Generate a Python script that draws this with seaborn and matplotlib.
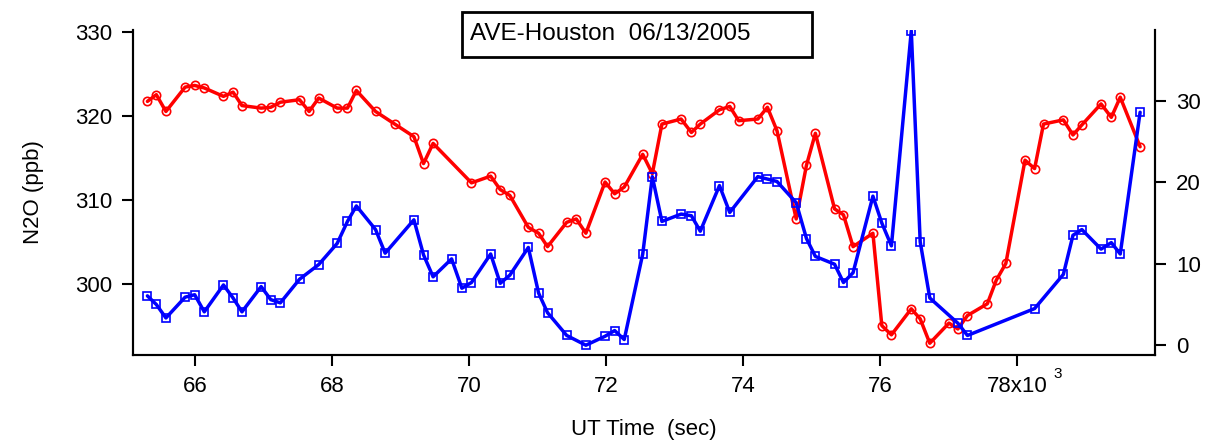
import numpy as np
import pandas as pd
import matplotlib
matplotlib.use('Agg')
import matplotlib.pyplot as plt
import seaborn as sns
from matplotlib.patches import Rectangle

# UT time in thousands of seconds
n2o_time = [65.30, 65.43, 65.57, 65.85, 65.99, 66.13, 66.41, 66.55, 66.68, 66.96, 67.10, 67.24,
            67.52, 67.66, 67.80, 68.07, 68.22, 68.35, 68.63, 68.91, 69.19, 69.33, 69.47, 70.03,
            70.31, 70.45, 70.59, 70.86, 71.01, 71.14, 71.42, 71.56, 71.70, 71.98, 72.12, 72.26,
            72.53, 72.67, 72.81, 73.09, 73.24, 73.37, 73.65, 73.80, 73.93, 74.21, 74.35, 74.49,
            74.77, 74.92, 75.05, 75.33, 75.46, 75.60, 75.89, 76.02, 76.16, 76.45, 76.58, 76.72,
            77.00, 77.13, 77.27, 77.56, 77.69, 77.83, 78.11, 78.25, 78.38, 78.67, 78.81, 78.94,
            79.22, 79.37, 79.50, 79.79]
n2o_ppb = [321.7, 322.5, 320.5, 323.4, 323.6, 323.3, 322.3, 322.8, 321.2, 320.9, 321.0, 321.6,
           321.9, 320.5, 322.1, 320.9, 320.9, 323.0, 320.5, 319.0, 317.5, 314.3, 316.7, 312.0,
           312.8, 311.2, 310.5, 306.7, 306.0, 304.4, 307.3, 307.7, 306.0, 312.1, 310.7, 311.5,
           315.4, 313.1, 319.0, 319.6, 318.0, 319.0, 320.7, 321.1, 319.4, 319.6, 321.0, 318.2,
           307.7, 314.1, 317.9, 308.9, 308.2, 304.4, 306.0, 295.0, 293.9, 297.0, 295.8, 292.9,
           295.3, 294.6, 296.2, 297.6, 300.4, 302.4, 314.7, 313.7, 319.0, 319.5, 317.7, 318.9,
           321.4, 319.8, 322.2, 316.3]

blue_time = [65.30, 65.43, 65.57, 65.85, 65.99, 66.13, 66.41, 66.55, 66.68, 66.96, 67.10, 67.24,
             67.52, 67.80, 68.07, 68.22, 68.35, 68.63, 68.77, 69.19, 69.33, 69.47, 69.74, 69.89,
             70.03, 70.31, 70.45, 70.59, 70.86, 71.01, 71.14, 71.42, 71.70, 71.98, 72.12, 72.26,
             72.53, 72.67, 72.81, 73.09, 73.24, 73.37, 73.65, 73.80, 74.21, 74.35, 74.49, 74.77,
             74.92, 75.05, 75.33, 75.46, 75.60, 75.89, 76.02, 76.16, 76.45, 76.58, 76.72, 77.13,
             77.27, 78.25, 78.67, 78.81, 78.94, 79.22, 79.37, 79.50, 79.79]
blue_val = [6.06, 5.0, 3.35, 5.9, 6.2, 4.1, 7.4, 5.8, 4.1, 7.2, 5.6, 5.2,
            8.1, 9.9, 12.5, 15.2, 17.1, 14.2, 11.3, 15.4, 11.1, 8.4, 10.6, 7.0,
            7.7, 11.2, 7.6, 8.6, 12.0, 6.4, 4.0, 1.2, 0.0, 1.1, 1.8, 0.7,
            11.2, 20.7, 15.2, 16.1, 15.9, 14.0, 19.6, 16.3, 20.7, 20.4, 20.1, 17.5,
            13.1, 10.9, 9.95, 7.7, 8.9, 18.3, 15.0, 12.2, 38.6, 12.7, 5.8, 2.7,
            1.2, 4.5, 8.7, 13.5, 14.2, 11.8, 12.6, 11.2, 28.6]

red_df = pd.DataFrame({'t': n2o_time, 'v': n2o_ppb})
blue_df = pd.DataFrame({'t': blue_time, 'v': blue_val})

sns.set_style('ticks')
plt.rcParams['font.family'] = ['Liberation Sans', 'DejaVu Sans']
plt.rcParams['text.color'] = 'black'
plt.rcParams['axes.labelcolor'] = 'black'
plt.rcParams['xtick.color'] = 'black'
plt.rcParams['ytick.color'] = 'black'
plt.rcParams['axes.edgecolor'] = 'black'

fig = plt.figure(figsize=(12.25, 4.48), dpi=100)
ax = fig.add_axes([0.1086, 0.2076, 0.8344, 0.7254])
ax2 = ax.twinx()

sns.lineplot(data=red_df, x='t', y='v', ax=ax, color='#ff0000', lw=2.5, marker='o',
             markersize=6, markerfacecolor='none', markeredgecolor='#ff0000', markeredgewidth=1.2)
sns.lineplot(data=blue_df, x='t', y='v', ax=ax2, color='#0000ff', lw=2.5, marker='s',
             markersize=5.5, markerfacecolor='none', markeredgecolor='#0000ff', markeredgewidth=1.2)

ax.set_xlim(65.09, 80.01)
ax.set_ylim(291.5, 330.2)
ax2.set_ylim(-1.2, 38.7)
ax.set_xticks([66, 68, 70, 72, 74, 76, 78])
ax.set_xticklabels(['66', '68', '70', '72', '74', '76', '78x10'])
ax.set_yticks([300, 310, 320, 330])
ax2.set_yticks([0, 10, 20, 30])

for a in (ax, ax2):
    a.spines['top'].set_visible(False)
    for s in a.spines.values():
        s.set_linewidth(1.5)
    a.tick_params(labelsize=16, width=1.5, length=8, direction='out', pad=7)
ax.set_xlabel('UT Time  (sec)', fontsize=16, labelpad=16)
ax.set_ylabel('N2O (ppb)', fontsize=16, labelpad=22)
ax2.set_ylabel('')
ax.text(78.52, -0.07, '3', transform=ax.get_xaxis_transform(), fontsize=11)

# title box
fig.patches.append(Rectangle((462 / 1225, 1 - 57 / 448), 350 / 1225, 45 / 448,
                             transform=fig.transFigure, fc='white', ec='black', lw=2, zorder=5))
fig.text(470 / 1225, 1 - 34 / 448, 'AVE-Houston  06/13/2005', fontsize=17.5,
         va='center', ha='left', zorder=6)

fig.savefig('out.png', dpi=100)
